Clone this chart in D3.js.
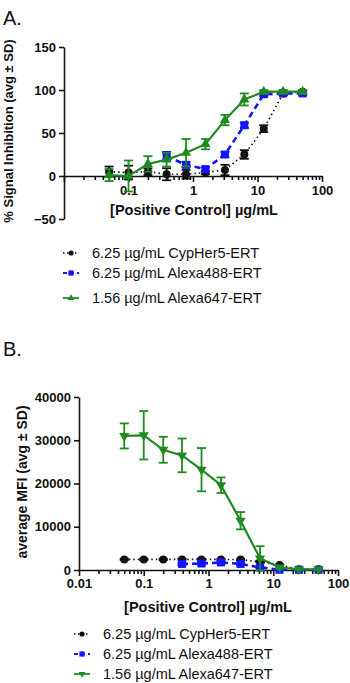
<!DOCTYPE html>
<html>
<head>
<meta charset="utf-8">
<script src="https://cdn.jsdelivr.net/npm/d3@7"></script>
<style>
  body { margin: 0; background: #fff; }
  svg text { font-family: "Liberation Sans", Arial, sans-serif; }
</style>
</head>
<body>
<div id="chart"></div>
<script>
// Data
const conc = [0.05, 0.1, 0.2, 0.39, 0.78, 1.56, 3.125, 6.25, 12.5, 25, 50];
const concBlue = [0.39, 0.78, 1.56, 3.125, 6.25, 12.5, 25, 50];

// Panel A: % signal inhibition
const inhCypHer = [5, 4, 5, 2, 2, 4, 7, 25, 55, 96, 98];
const inhCypHerSD = [6, 8, 4, 7, 5, 2, 6, 5, 4, 2, 2];
const inh488 = [23, 13, 8, 25, 59, 95, 96, 96];
const inh488SD = [5, 3, 2, 3, 3, 2, 2, 2];
const inh647 = [1, 0, 14, 19, 27, 37, 65, 89, 98, 98, 98];
const inh647SD = [7, 18, 9, 8, 16, 6, 6, 7, 2, 2, 2];

// Panel B: average MFI
const mfiCypHer = [2450, 2450, 2450, 2450, 2450, 2450, 2400, 1900, 1150, 150, 150];
const mfiCypHerSD = [150, 150, 150, 150, 150, 150, 150, 150, 150, 100, 100];
const mfi488 = [1400, 1500, 1750, 1400, 600, 50, 50, 50];
const mfi488SD = [250, 250, 250, 250, 200, 50, 50, 50];
const mfi647 = [31000, 31150, 27800, 26500, 23200, 19600, 11400, 2700, 600, 150, 150];
const mfi647SD = [2900, 5600, 3000, 3900, 5000, 1800, 2000, 2800, 300, 100, 100];

const legendLabels = ['6.25 µg/mL CypHer5-ERT', '6.25 µg/mL Alexa488-ERT', '1.56 µg/mL Alexa647-ERT'];
const xTicksA = [0.1, 1, 10, 100];
const xTicksB = [0.01, 0.1, 1, 10, 100];
const yTicksA = [-50, 0, 50, 100, 150];
const yTicksB = [0, 10000, 20000, 30000, 40000];

const green = '#1f8a1f';
const blue = '#1414ff';

const svg = d3.select('#chart')
    .append('svg')
    .attr('width', 350)
    .attr('height', 683);

const minorTicks = [];
for (let e = -2; e < 2; e++) {
    for (let m = 2; m <= 9; m++) minorTicks.push(m * Math.pow(10, e));
}

function marker(g, shape, x, y, color, k = 1) {
    if (shape === 'circle') {
        g.append('circle').attr('cx', x).attr('cy', y).attr('r', 4 * k).attr('fill', color);
    } else if (shape === 'square') {
        g.append('rect').attr('x', x - 4 * k).attr('y', y - 4 * k).attr('width', 8 * k).attr('height', 8 * k).attr('fill', color);
    } else {
        const sym = d3.symbol().type(d3.symbolTriangle).size(45 * k * k);
        g.append('path').attr('d', sym)
            .attr('transform', `translate(${x},${y}) rotate(${shape === 'down' ? 180 : 0})`)
            .attr('fill', color);
    }
}

function drawPanel(cfg) {
    const x = d3.scaleLog().domain([0.01, 100]).range(cfg.xRange);
    const y = d3.scaleLinear().domain(cfg.yDomain).range(cfg.yRange);
    const g = svg.append('g');

    // axes
    const xAxisY = y(0);
    const xMinor = g.append('g')
        .attr('transform', `translate(0,${xAxisY})`)
        .call(d3.axisBottom(x).tickValues(minorTicks).tickSize(4).tickFormat(''));
    xMinor.select('.domain').remove();
    g.append('g')
        .attr('transform', `translate(0,${xAxisY})`)
        .call(d3.axisBottom(x).tickValues(xTicksB).tickSize(6).tickSizeOuter(0).tickPadding(cfg.xPad)
            .tickFormat(d => cfg.xTicks.includes(d) ? d3.format('~g')(d) : ''));
    g.append('g')
        .attr('transform', `translate(${cfg.xRange[0]},0)`)
        .call(d3.axisLeft(y).tickValues(cfg.yTicks).tickSize(5).tickSizeOuter(0).tickPadding(3)
            .tickFormat(d3.format('d')));
    g.selectAll('.domain, .tick line').attr('stroke', '#111').attr('stroke-width', 1.6);
    g.selectAll('.tick text')
        .attr('font-size', 13).attr('font-weight', 'bold').attr('fill', '#111')
        .style('font-family', '"Liberation Sans", Arial, sans-serif');

    // titles
    g.append('text')
        .attr('x', cfg.xTitle[0]).attr('y', cfg.xTitle[1])
        .attr('text-anchor', 'middle').attr('font-size', 14.5).attr('font-weight', 'bold').attr('fill', '#111')
        .text('[Positive Control] µg/mL');
    g.append('text')
        .attr('transform', `translate(${cfg.yTitle[0]},${cfg.yTitle[1]}) rotate(-90)`)
        .attr('text-anchor', 'middle').attr('font-size', cfg.yTitleSize).attr('font-weight', 'bold').attr('fill', '#111')
        .text(cfg.yLabel);
    g.append('text')
        .attr('x', 3).attr('y', cfg.letterY)
        .attr('font-size', 20).attr('fill', '#111')
        .text(cfg.letter);

    // series
    cfg.series.forEach(s => {
        const pts = s.xs.map((c, i) => ({ c, v: s.vals[i], sd: s.sd[i] }));
        const line = d3.line().x(d => x(d.c)).y(d => y(d.v));
        g.append('path')
            .datum(pts)
            .attr('d', line)
            .attr('fill', 'none')
            .attr('stroke', s.color)
            .attr('stroke-width', s.width)
            .attr('stroke-dasharray', s.dash);
        pts.forEach(d => {
            const cx = x(d.c);
            const eb = g.append('g').attr('stroke', s.color).attr('stroke-width', 1.8);
            eb.append('line').attr('x1', cx).attr('x2', cx).attr('y1', y(d.v - d.sd)).attr('y2', y(d.v + d.sd));
            [d.v - d.sd, d.v + d.sd].forEach(v => {
                eb.append('line').attr('x1', cx - 4.5).attr('x2', cx + 4.5).attr('y1', y(v)).attr('y2', y(v));
            });
            marker(g, s.shape, cx, y(d.v), s.color);
        });
    });

    // legend
    cfg.series.forEach((s, i) => {
        const ly = cfg.legendY[i];
        const lx = cfg.legendX;
        g.append('line')
            .attr('x1', lx).attr('x2', lx + 16).attr('y1', ly).attr('y2', ly)
            .attr('stroke', s.color).attr('stroke-width', s.width * 0.8).attr('stroke-dasharray', s.legendDash);
        marker(g, s.shape, lx + 8, ly, s.color, 0.65);
        g.append('text')
            .attr('x', lx + 29).attr('y', ly + 5)
            .attr('font-size', 14.5).attr('fill', '#111')
            .text(legendLabels[i]);
    });
}

drawPanel({
    letter: 'A.', letterY: 25,
    xRange: [64, 322], yDomain: [-50, 150], yRange: [219, 47],
    xTicks: xTicksA, yTicks: yTicksA, xPad: 4,
    xTitle: [194, 215], yTitle: [13, 131], yTitleSize: 13,
    yLabel: '% Signal Inhibition (avg ± SD)',
    legendX: 63, legendY: [253, 273, 298],
    series: [
        { xs: conc, vals: inhCypHer, sd: inhCypHerSD, color: '#111', width: 1.6, dash: '1.5,3', legendDash: '1.5,2.5', shape: 'circle' },
        { xs: concBlue, vals: inh488, sd: inh488SD, color: blue, width: 2.6, dash: '6,4', legendDash: '4,3', shape: 'square' },
        { xs: conc, vals: inh647, sd: inh647SD, color: green, width: 2.2, dash: null, legendDash: null, shape: 'up' }
    ]
});

drawPanel({
    letter: 'B.', letterY: 356,
    xRange: [79, 338], yDomain: [0, 40000], yRange: [570, 397],
    xTicks: xTicksB, yTicks: yTicksB, xPad: 3,
    xTitle: [208, 612], yTitle: [27, 482], yTitleSize: 14,
    yLabel: 'average MFI (avg ± SD)',
    legendX: 74, legendY: [634, 654, 674],
    series: [
        { xs: conc, vals: mfiCypHer, sd: mfiCypHerSD, color: '#111', width: 1.6, dash: '1.5,3', legendDash: '1.5,2.5', shape: 'circle' },
        { xs: concBlue, vals: mfi488, sd: mfi488SD, color: blue, width: 2.6, dash: '6,4', legendDash: '4,3', shape: 'square' },
        { xs: conc, vals: mfi647, sd: mfi647SD, color: green, width: 2.2, dash: null, legendDash: null, shape: 'down' }
    ]
});
</script>
</body>
</html>
